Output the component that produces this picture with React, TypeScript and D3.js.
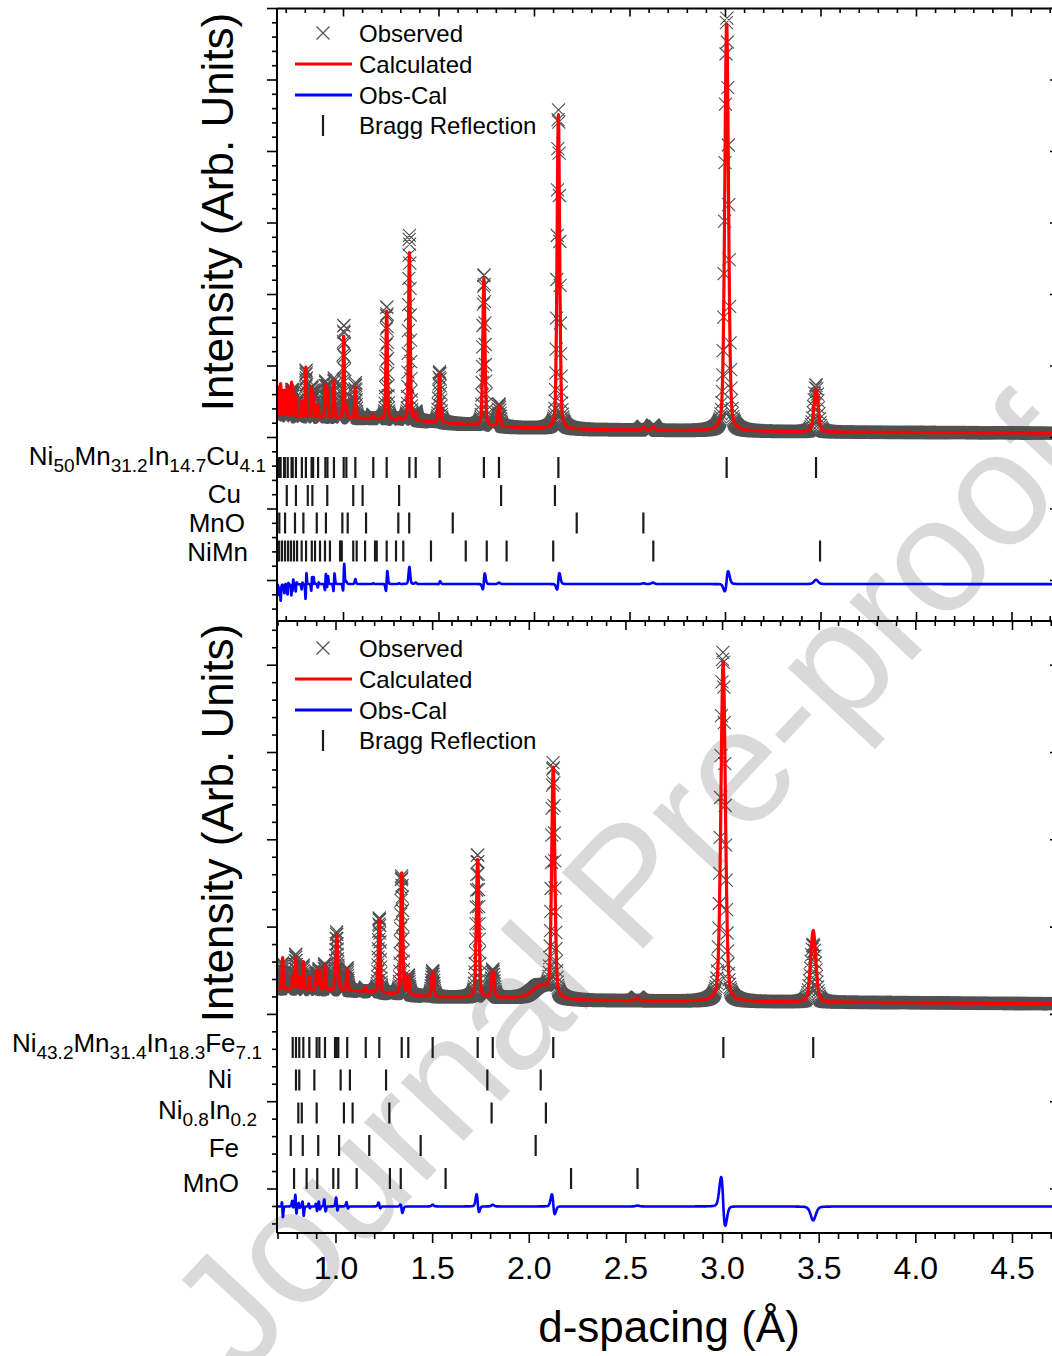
import React, { useEffect } from 'react';
import * as d3 from 'd3';

const FONT = "'Liberation Sans', Arial, Helvetica, sans-serif";

// ---------------- data ----------------
const xTickValues = [1.0, 1.5, 2.0, 2.5, 3.0, 3.5, 4.0, 4.5];
const xTickLabels = ['1.0', '1.5', '2.0', '2.5', '3.0', '3.5', '4.0', '4.5'];
const legendLabels = ['Observed', 'Calculated', 'Obs-Cal', 'Bragg Reflection'];
const yTitle = 'Intensity (Arb. Units)';
const xTitle = 'd-spacing (Å)';
const watermarkText = 'Journal Pre-proof';

// Top sample: background [d, intensity]
const topBackground: [number, number][] = [
  [0.6, 2.3], [0.8, 2.28], [1.0, 2.27], [1.2, 2.26], [1.4, 2.23], [1.6, 2.19],
  [1.9, 2.14], [2.3, 2.11], [3.0, 2.09], [3.6, 2.075], [4.8, 2.06],
];
// [d, calculated height, observed height, observed shift]
const topPeaks: [number, number, number, number][] = [
  [3.474, 0.6, 0.66, 0.0],
  [3.006, 5.74, 5.8, 0.0004],
  [2.62, 0.05, 0.07, 0.0],
  [2.57, 0.04, 0.05, 0.0],
  [2.125, 4.4, 4.46, 0.0003],
  [1.814, 0.29, 0.31, 0.0],
  [1.735, 2.06, 2.12, 0.0005],
  [1.503, 0.68, 0.71, 0.0002],
  [1.378, 0.1, 0.12, 0.0],
  [1.345, 2.35, 2.59, 0.0],
  [1.291, 0.04, 0.05, 0.0],
  [1.226, 1.51, 1.58, 0.0006],
  [1.156, 0.05, 0.06, 0.0],
  [1.062, 0.43, 0.5, 0.0],
  [1.015, 0.15, 0.18, 0.0],
  [1.001, 1.15, 1.3, 0.0008],
  [0.95, 0.52, 0.56, 0.0012],
  [0.916, 0.4, 0.44, 0.001],
  [0.905, 0.45, 0.5, 0.0012],
  [0.867, 0.18, 0.16, 0.001],
  [0.841, 0.3, 0.34, 0.001],
  [0.833, 0.4, 0.42, 0.0012],
  [0.803, 0.7, 0.66, 0.0012],
  [0.782, 0.22, 0.18, 0.001],
  [0.751, 0.28, 0.22, 0.001],
  [0.734, 0.4, 0.36, 0.001],
  [0.728, 0.45, 0.35, 0.0008],
  [0.708, 0.4, 0.3, 0.0008],
  [0.693, 0.28, 0.22, 0.0006],
  [0.689, 0.28, 0.2, 0.0],
  [0.671, 0.45, 0.22, 0.0],
  [0.662, 0.4, 0.25, 0.0],
];
const topHumps: [number, number, number][] = [];
const topPhaseLabels: [string, boolean][][] = [
  [['Ni', false], ['50', true], ['Mn', false], ['31.2', true], ['In', false], ['14.7', true], ['Cu', false], ['4.1', true]],
  [['Cu', false]],
  [['MnO', false]],
  [['NiMn', false]],
];
const topBraggMain = [3.474, 3.006, 2.125, 1.814, 1.735, 1.503, 1.378, 1.345, 1.226, 1.156, 1.062, 1.015, 1.001, 0.95, 0.916, 0.905, 0.867, 0.841, 0.833, 0.803, 0.782, 0.751, 0.734, 0.728, 0.708, 0.693, 0.689, 0.671, 0.662, 0.659];
const topBraggCu = [2.107, 1.825, 1.291, 1.1, 1.051, 0.915, 0.837, 0.813, 0.751, 0.703];
const topBraggMnO = [2.57, 2.221, 1.572, 1.344, 1.287, 1.118, 1.022, 0.994, 0.908, 0.86, 0.79, 0.746, 0.694, 0.664];
const topBraggNiMn = [3.495, 2.622, 2.098, 1.854, 1.75, 1.64, 1.458, 1.313, 1.275, 1.226, 1.174, 1.165, 1.113, 1.069, 1.051, 0.991, 0.982, 0.929, 0.903, 0.877, 0.851, 0.834, 0.804, 0.781, 0.757, 0.741, 0.725, 0.71, 0.694, 0.678, 0.663];

// Bottom sample
const botBackground: [number, number][] = [
  [0.6, 2.3], [0.85, 2.28], [1.1, 2.27], [1.3, 2.23], [1.5, 2.2], [1.8, 2.19],
  [1.95, 2.19], [2.3, 2.16], [2.8, 2.15], [3.5, 2.14], [4.2, 2.13], [4.8, 2.12],
];
const botPeaks: [number, number, number, number][] = [
  [3.469, 0.82, 0.66, 0.0],
  [3.003, 3.91, 4.0, -0.0014],
  [2.56, 0.03, 0.04, 0.0],
  [2.124, 2.62, 2.66, -0.0006],
  [1.811, 0.3, 0.32, 0.0],
  [1.733, 1.58, 1.64, -0.0007],
  [1.5, 0.28, 0.3, 0.0],
  [1.374, 0.22, 0.22, 0.0],
  [1.34, 1.4, 1.36, -0.0003],
  [1.224, 0.84, 0.86, -0.0003],
  [1.154, 0.05, 0.05, 0.0],
  [1.058, 0.24, 0.26, -0.001],
  [1.012, 0.15, 0.16, 0.0],
  [1.004, 0.6, 0.64, -0.0008],
  [0.995, 0.1, 0.1, 0.0],
  [0.943, 0.28, 0.3, -0.0015],
  [0.914, 0.22, 0.24, -0.0012],
  [0.9, 0.22, 0.2, -0.0012],
  [0.862, 0.15, 0.16, -0.001],
  [0.831, 0.32, 0.28, -0.0015],
  [0.81, 0.14, 0.16, -0.001],
  [0.793, 0.36, 0.4, -0.0015],
  [0.776, 0.16, 0.2, -0.001],
  [0.724, 0.36, 0.3, -0.0012],
];
// broad features [d, height, fwhm]
const botHumps: [number, number, number][] = [[2.06, 0.14, 0.1]];
const botPhaseLabels: [string, boolean][][] = [
  [['Ni', false], ['43.2', true], ['Mn', false], ['31.4', true], ['In', false], ['18.3', true], ['Fe', false], ['7.1', true]],
  [['Ni', false]],
  [['Ni', false], ['0.8', true], ['In', false], ['0.2', true]],
  [['Fe', false]],
  [['MnO', false]],
];
const botBraggMain = [3.469, 3.004, 2.124, 1.811, 1.733, 1.5, 1.374, 1.34, 1.224, 1.154, 1.058, 1.012, 1.004, 0.995, 0.943, 0.914, 0.9, 0.862, 0.831, 0.81, 0.793, 0.776];
const botBraggNi = [2.059, 1.783, 1.259, 1.072, 1.024, 0.888, 0.81, 0.793];
const botBraggNiIn = [2.086, 1.805, 1.276, 1.086, 1.041, 0.9, 0.823, 0.805];
const botBraggFe = [2.033, 1.438, 1.172, 1.016, 0.908, 0.828, 0.766];
const botBraggMnO = [2.56, 2.216, 1.567, 1.335, 1.279, 1.107, 1.012, 0.986, 0.903, 0.848, 0.783];

// ---------------- layout ----------------
const W = 1052, H = 1356;
const LEFT = 277, RIGHT = 1058;

const topLayout = {
  frameTop: 8.5, frameBottom: 621,
  xAnchorsPx: [343.5, 1012],
  yZeroPx: 580.5, pxPerUnit: 71.5,
  resolution: 0.0075,
  diffOffset: -0.05,
  braggCenters: [467.5, 495.5, 523, 551],
  labelRight: [266, 241, 245, 248],
  labelBase: [465, 503, 532, 561],
  legendY: 33,
  titleY: 212,
};
const botLayout = {
  frameTop: 621, frameBottom: 1233,
  xAnchorsPx: [336, 1012.5],
  yZeroPx: 1189, pxPerUnit: 87.3,
  resolution: 0.009,
  diffOffset: -0.2,
  braggCenters: [1047.5, 1080, 1113, 1145.5, 1178.5],
  labelRight: [262, 232, 257, 239, 239],
  labelBase: [1052, 1088, 1119, 1157, 1192],
  legendY: 648,
  titleY: 823,
};

const topData = { bg: topBackground, peaks: topPeaks, humps: topHumps, labels: topPhaseLabels, bragg: [topBraggMain, topBraggCu, topBraggMnO, topBraggNiMn] };
const botData = { bg: botBackground, peaks: botPeaks, humps: botHumps, labels: botPhaseLabels, bragg: [botBraggMain, botBraggNi, botBraggNiIn, botBraggFe, botBraggMnO] };

function pv(x: number, c: number, g: number) {
  const t = (x - c) / g;
  const eta = 0.3;
  return eta / (1 + 4 * t * t) + (1 - eta) * Math.exp(-4 * Math.LN2 * t * t);
}

function buildProfile(data: any, layout: any, xs: any) {
  const bgScale = d3.scaleLinear().domain(data.bg.map((p: number[]) => p[0])).range(data.bg.map((p: number[]) => p[1])).clamp(true);
  const dMin = xs.invert(LEFT), dMax = xs.invert(W + 2);
  const pts: { d: number; calc: number; obs: number }[] = [];
  for (let d = dMin; d <= dMax; d *= 1.0008) {
    let c = bgScale(d);
    let o = c;
    for (const [pd, hc, ho, sh] of data.peaks) {
      const g = layout.resolution * pd;
      if (Math.abs(d - pd) > 40 * g) continue;
      c += hc * pv(d, pd, g);
      o += ho * pv(d, pd + sh, g);
    }
    for (const [hd, hh, hw] of data.humps) {
      const v = hh * pv(d, hd, hw);
      c += v; o += v;
    }
    pts.push({ d, calc: c, obs: o });
  }
  return pts;
}

function PhaseLabel({ segs, x, y }: { segs: [string, boolean][]; x: number; y: number }) {
  let prev = false;
  return (
    <text x={x} y={y} textAnchor="end" fontSize={26} fill="#000">
      {segs.map(([t, sub], i) => {
        const dy = (sub ? 7 : 0) - (prev ? 7 : 0);
        prev = sub;
        return (
          <tspan key={i} fontSize={sub ? 19 : 26} dy={dy}>{t}</tspan>
        );
      })}
    </text>
  );
}

function Panel({ data, layout, id }: any) {
  const xs = d3.scaleLinear().domain([1.0, 4.5]).range(layout.xAnchorsPx);
  const ys = d3.scaleLinear().domain([0, 1]).range([layout.yZeroPx, layout.yZeroPx - layout.pxPerUnit]);
  const pts = buildProfile(data, layout, xs);

  const s = 6.5;
  let marks = '';
  for (const p of pts) {
    const px = xs(p.d), py = ys(p.obs);
    marks += `M${(px - s).toFixed(1)},${(py - s).toFixed(1)}L${(px + s).toFixed(1)},${(py + s).toFixed(1)}M${(px - s).toFixed(1)},${(py + s).toFixed(1)}L${(px + s).toFixed(1)},${(py - s).toFixed(1)}`;
  }
  const calcLine = d3.line<any>().x(p => xs(p.d)).y(p => ys(p.calc))(pts) || '';
  const diffLine = d3.line<any>().x(p => xs(p.d)).y(p => ys(layout.diffOffset + p.obs - p.calc))(pts) || '';

  const braggLen = 21;
  const lg = layout.legendY;
  const rows = [lg, lg + 31, lg + 62, lg + 92.5];

  return (
    <g>
      <defs>
        <clipPath id={`clip-${id}`}>
          <rect x={LEFT} y={layout.frameTop} width={RIGHT - LEFT} height={layout.frameBottom - layout.frameTop} />
        </clipPath>
      </defs>
      <g clipPath={`url(#clip-${id})`}>
        <path d={marks} stroke="#505050" strokeWidth={1.1} fill="none" />
        <path d={calcLine} stroke="#ff0000" strokeWidth={3.2} fill="none" strokeLinejoin="round" />
        <path d={diffLine} stroke="#0000ff" strokeWidth={2.6} fill="none" strokeLinejoin="round" />
        {data.bragg.map((row: number[], ri: number) => (
          <g key={ri}>
            {row.map((d, i) => (
              <line key={i} x1={xs(d)} x2={xs(d)} y1={layout.braggCenters[ri] - braggLen / 2} y2={layout.braggCenters[ri] + braggLen / 2} stroke="#1a1a1a" strokeWidth={2.2} />
            ))}
          </g>
        ))}
      </g>
      {data.labels.map((segs: [string, boolean][], i: number) => (
        <PhaseLabel key={i} segs={segs} x={layout.labelRight[i]} y={layout.labelBase[i]} />
      ))}
      <g fontSize={24} fill="#000">
        <path d={`M${323 - s},${rows[0] - s}L${323 + s},${rows[0] + s}M${323 - s},${rows[0] + s}L${323 + s},${rows[0] - s}`} stroke="#505050" strokeWidth={1.2} />
        <line x1={295} x2={352} y1={rows[1]} y2={rows[1]} stroke="#ff0000" strokeWidth={3.2} />
        <line x1={295} x2={352} y1={rows[2]} y2={rows[2]} stroke="#0000ff" strokeWidth={3.2} />
        <line x1={323} x2={323} y1={rows[3] - 10.5} y2={rows[3] + 10.5} stroke="#1a1a1a" strokeWidth={2.2} />
        {legendLabels.map((t, i) => (
          <text key={i} x={359} y={rows[i] + 8.5}>{t}</text>
        ))}
      </g>
      <text transform={`translate(233,${layout.titleY}) rotate(-90)`} textAnchor="middle" fontSize={44} fill="#000">{yTitle}</text>
    </g>
  );
}

function Axes() {
  const xsTop = d3.scaleLinear().domain([1.0, 4.5]).range(topLayout.xAnchorsPx);
  const xsBot = d3.scaleLinear().domain([1.0, 4.5]).range(botLayout.xAnchorsPx);
  const xTickList = d3.range(6, 48).map(i => ({ v: i / 10, major: i % 5 === 0 }));
  const els: any[] = [];
  let k = 0;
  const tk = (x1: number, y1: number, x2: number, y2: number, w = 1.6) =>
    els.push(<line key={k++} x1={x1} y1={y1} x2={x2} y2={y2} stroke="#000" strokeWidth={w} />);

  for (const t of xTickList) {
    const x = xsTop(t.v);
    if (x < LEFT + 1 || x > RIGHT) continue;
    tk(x, topLayout.frameTop, x, topLayout.frameTop + (t.major ? 8 : 4.5));
    tk(x, topLayout.frameBottom, x, topLayout.frameBottom - (t.major ? 9 : 5));
  }
  for (const t of xTickList) {
    const x = xsBot(t.v);
    if (x < LEFT + 1 || x > RIGHT) continue;
    tk(x, botLayout.frameTop, x, botLayout.frameTop + (t.major ? 9 : 5));
    tk(x, botLayout.frameBottom, x, botLayout.frameBottom + (t.major ? 10 : 6));
  }
  for (const lay of [topLayout, botLayout]) {
    const ys = d3.scaleLinear().domain([0, 1]).range([lay.yZeroPx, lay.yZeroPx - lay.pxPerUnit]);
    const lo = ys.invert(lay.frameBottom), hi = ys.invert(lay.frameTop);
    const start = Math.ceil(lo / 0.2 - 1e-6);
    const end = Math.floor(hi / 0.2 + 1e-6);
    for (let i = start; i <= end; i++) {
      const v = i * 0.2;
      const major = i % 5 === 0;
      const y = ys(v);
      tk(LEFT, y, LEFT - (major ? 10 : 5), y);
      tk(RIGHT, y, RIGHT - (major ? 8 : 4), y);
    }
  }
  els.push(<line key={k++} x1={LEFT} x2={LEFT} y1={topLayout.frameTop} y2={botLayout.frameBottom} stroke="#000" strokeWidth={2} />);
  els.push(<line key={k++} x1={RIGHT} x2={RIGHT} y1={topLayout.frameTop} y2={botLayout.frameBottom} stroke="#000" strokeWidth={2} />);
  els.push(<line key={k++} x1={LEFT} x2={RIGHT} y1={topLayout.frameTop} y2={topLayout.frameTop} stroke="#000" strokeWidth={2} />);
  els.push(<line key={k++} x1={LEFT} x2={RIGHT} y1={topLayout.frameBottom} y2={topLayout.frameBottom} stroke="#000" strokeWidth={2} />);
  els.push(<line key={k++} x1={LEFT} x2={RIGHT} y1={botLayout.frameBottom} y2={botLayout.frameBottom} stroke="#000" strokeWidth={2} />);

  xTickValues.forEach((v, i) => {
    els.push(<text key={k++} x={xsBot(v)} y={1279} textAnchor="middle" fontSize={32} fill="#000">{xTickLabels[i]}</text>);
  });
  els.push(<text key={k++} x={669} y={1342} textAnchor="middle" fontSize={44} fill="#000">{xTitle}</text>);
  return <g>{els}</g>;
}

export default function App() {
  useEffect(() => {
    document.body.style.margin = '0';
    document.body.style.overflow = 'hidden';
  }, []);
  return (
    <svg width={W} height={H} style={{ position: 'absolute', left: 0, top: 0, display: 'block' }} fontFamily={FONT}>
      <rect x={0} y={0} width={W} height={H} fill="#fff" />
      <text transform="translate(668,922) rotate(-47)" textAnchor="middle" fontSize={162} fill="#d9d9d9">{watermarkText}</text>
      <Panel data={topData} layout={topLayout} id="top" />
      <Panel data={botData} layout={botLayout} id="bot" />
      <Axes />
    </svg>
  );
}
